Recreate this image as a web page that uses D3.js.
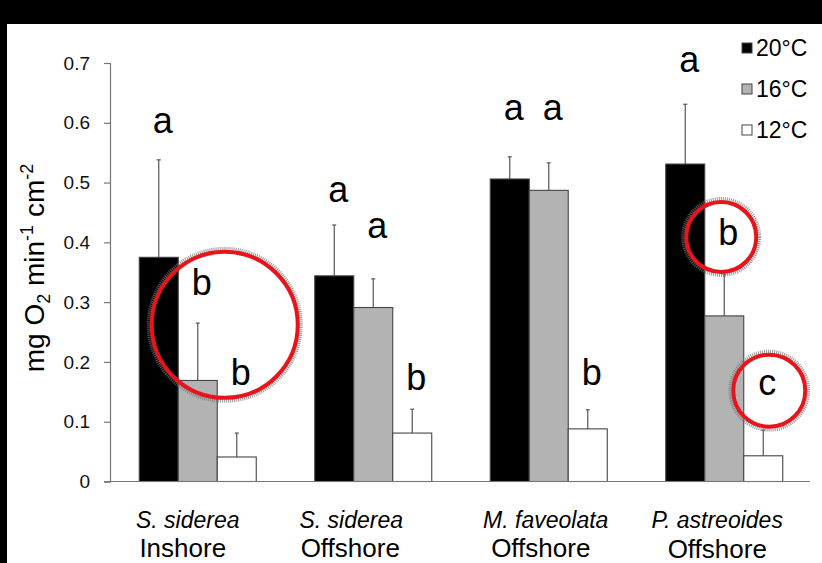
<!DOCTYPE html>
<html>
<head>
<meta charset="utf-8">
<script src="https://cdn.jsdelivr.net/npm/d3@7/dist/d3.min.js"></script>
<style>
  html, body { margin: 0; padding: 0; background: #000; }
  svg { display: block; }
</style>
</head>
<body>
<svg id="chart" width="822" height="563"></svg>
<script>
// Oxygen consumption by coral species/site at three temperatures
const species = ["S. siderea", "S. siderea", "M. faveolata", "P. astreoides"];
const sites = ["Inshore", "Offshore", "Offshore", "Offshore"];
const temps = ["20°C", "16°C", "12°C"];

// means (mg O2 min-1 cm-2), one array per temperature
const mean20 = [0.375, 0.344, 0.506, 0.531];
const mean16 = [0.169, 0.291, 0.487, 0.277];
const mean12 = [0.041, 0.081, 0.088, 0.043];
// top of the error bars
const err20 = [0.538, 0.429, 0.543, 0.631];
const err16 = [0.265, 0.339, 0.533, 0.347];
const err12 = [0.081, 0.121, 0.120, 0.086];

// significance letters and the value at which each sits
const letters20 = ["a", "a", "a", "a"];
const letters16 = ["b", "a", "a", "b"];
const letters12 = ["b", "b", "b", "c"];
const letterAt20 = [0.583, 0.467, 0.604, 0.685];
const letterAt16 = [0.312, 0.407, 0.604, 0.395];
const letterAt12 = [0.161, 0.153, 0.161, 0.145];

const yTicks = [0, 0.1, 0.2, 0.3, 0.4, 0.5, 0.6, 0.7];

const svg = d3.select("#chart");
const font = "'Liberation Sans', Arial, Helvetica, sans-serif";

// page: black frame on top/left, white sheet
svg.append("rect").attr("width", 822).attr("height", 563).attr("fill", "#000");
svg.append("rect").attr("x", 7).attr("y", 24).attr("width", 815).attr("height", 539).attr("fill", "#fff");

const cats = species.map((s, i) => i);
const x0 = d3.scaleBand().domain(cats).range([110, 812]).paddingInner(1 / 3).paddingOuter(1 / 6);
const x1 = d3.scaleBand().domain(temps).range([0, x0.bandwidth()]);
const y = d3.scaleLinear().domain([0, 0.7]).range([481.5, 63]);

const fills = { "20°C": "#000", "16°C": "#b3b3b3", "12°C": "#fff" };
const means = { "20°C": mean20, "16°C": mean16, "12°C": mean12 };
const errs = { "20°C": err20, "16°C": err16, "12°C": err12 };
const lets = { "20°C": letters20, "16°C": letters16, "12°C": letters12 };
const letAt = { "20°C": letterAt20, "16°C": letterAt16, "12°C": letterAt12 };

const rows = [];
cats.forEach(c => temps.forEach(t => rows.push({
  c, t, v: means[t][c], e: errs[t][c], L: lets[t][c], la: letAt[t][c]
})));

// y axis
const yAxis = d3.axisLeft(y).tickValues(yTicks).tickSize(6).tickPadding(14)
  .tickFormat(d => d === 0 ? "0" : d3.format(".1f")(d));
const ya = svg.append("g").attr("transform", "translate(110,0)").call(yAxis);
ya.select(".domain").attr("stroke", "#777").attr("stroke-width", 1.2);
ya.selectAll(".tick line").attr("stroke", "#777").attr("stroke-width", 1.2);
ya.selectAll(".tick text").attr("font-family", font).attr("font-size", 19).attr("fill", "#111");

// error bars (drawn beneath the bars)
const eb = svg.append("g").attr("stroke", "#555").attr("stroke-width", 1.2);
rows.forEach(d => {
  const cx = x0(d.c) + x1(d.t) + x1.bandwidth() / 2;
  eb.append("line").attr("x1", cx).attr("x2", cx).attr("y1", y(d.v)).attr("y2", y(d.e));
  eb.append("line").attr("x1", cx - 2).attr("x2", cx + 2).attr("y1", y(d.e)).attr("y2", y(d.e));
});

// bars
svg.append("g").selectAll("rect").data(rows).join("rect")
  .attr("x", d => x0(d.c) + x1(d.t))
  .attr("y", d => y(d.v))
  .attr("width", x1.bandwidth())
  .attr("height", d => y(0) - y(d.v))
  .attr("fill", d => fills[d.t])
  .attr("stroke", "#444")
  .attr("stroke-width", 1.1);

// x axis baseline
svg.append("line").attr("x1", 104).attr("x2", 810).attr("y1", y(0)).attr("y2", y(0))
  .attr("stroke", "#777").attr("stroke-width", 1.2);

// significance letters
svg.append("g").selectAll("text").data(rows).join("text")
  .attr("x", d => x0(d.c) + x1(d.t) + x1.bandwidth() / 2 + 4)
  .attr("y", d => y(d.la))
  .attr("text-anchor", "middle")
  .attr("font-family", font).attr("font-size", 36).attr("fill", "#000")
  .text(d => d.L);

// category labels
const nudge1 = [-10, -22, -3, -7];
const nudge2 = [-15, -23, -8, -7];
const drop2 = [0, 0, 0, 2];
const xl = svg.append("g").attr("font-family", font).attr("text-anchor", "middle").attr("fill", "#000");
cats.forEach(c => {
  const cx = x0(c) + x0.bandwidth() / 2;
  xl.append("text").attr("x", cx + nudge1[c]).attr("y", 528)
    .attr("font-size", 23).attr("font-style", "italic").text(species[c]);
  xl.append("text").attr("x", cx + nudge2[c]).attr("y", 557 + drop2[c] / 2)
    .attr("font-size", 26).text(sites[c]);
});

// y axis title
const yt = svg.append("text")
  .attr("transform", "translate(44,268) rotate(-90)")
  .attr("text-anchor", "middle")
  .attr("font-family", font).attr("font-size", 28).attr("fill", "#000");
yt.append("tspan").text("mg O");
yt.append("tspan").attr("font-size", 18).attr("dy", 6).text("2");
yt.append("tspan").attr("dy", -6).text(" min");
yt.append("tspan").attr("font-size", 18).attr("dy", -11).text("-1");
yt.append("tspan").attr("dy", 11).text(" cm");
yt.append("tspan").attr("font-size", 18).attr("dy", -11).text("-2");

// legend
const lg = svg.append("g").attr("font-family", font);
temps.forEach((t, i) => {
  const cy = 48 + i * 41;
  lg.append("rect").attr("x", 742).attr("y", cy - 5).attr("width", 10).attr("height", 10)
    .attr("fill", fills[t]).attr("stroke", "#444").attr("stroke-width", 1);
  lg.append("text").attr("x", 756).attr("y", cy + 8).attr("font-size", 23).attr("fill", "#000").text(t);
});

// red highlight rings with a stippled grey halo
const rings = [
  { cx: x0(0) + x0.bandwidth() / 2 + 27, cy: y(0.262), r: 73 },
  { cx: x0(3) + x1("16°C") + x1.bandwidth() / 2 - 3, cy: y(0.409), r: 35 },
  { cx: x0(3) + x1("12°C") + x1.bandwidth() / 2 + 6, cy: y(0.152), r: 36 }
];
const rg = svg.append("g").attr("fill", "none");
rings.forEach(r => {
  rg.append("circle").attr("cx", r.cx).attr("cy", r.cy).attr("r", r.r + 2.5)
    .attr("stroke", "#777").attr("stroke-width", 5).attr("stroke-dasharray", "1 1").attr("opacity", 0.75);
  rg.append("circle").attr("cx", r.cx).attr("cy", r.cy).attr("r", r.r)
    .attr("stroke", "#e8141c").attr("stroke-width", 4);
});
</script>
</body>
</html>
